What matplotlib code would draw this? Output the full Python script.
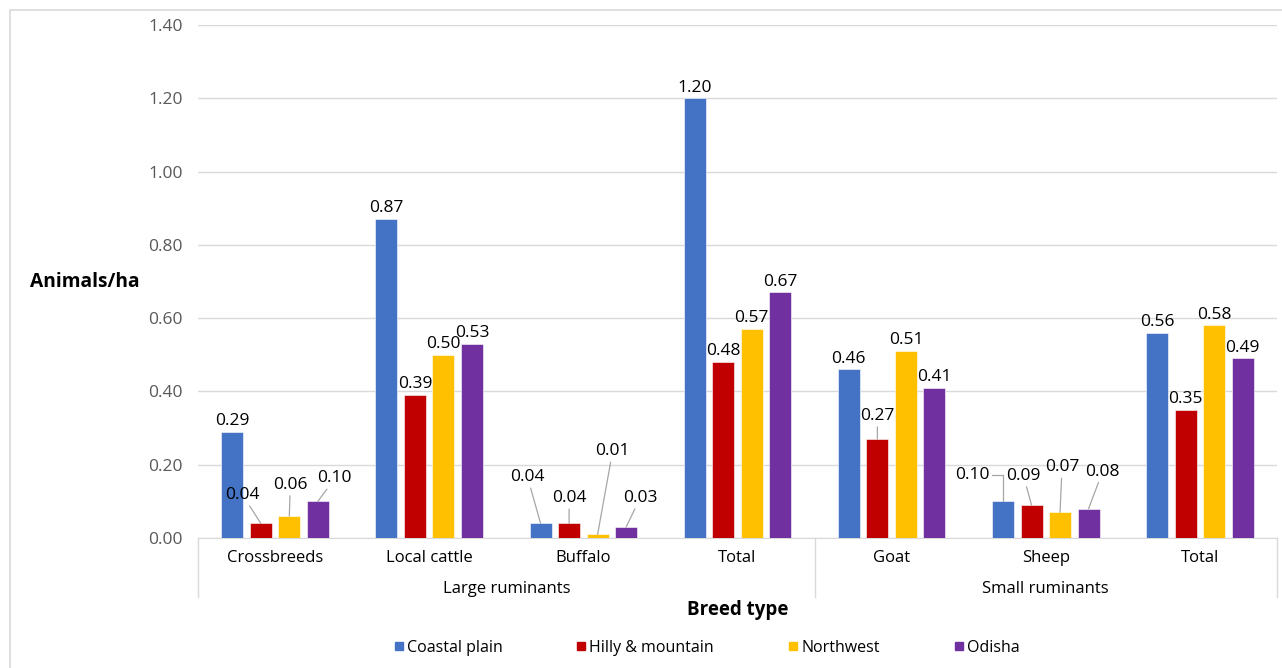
import matplotlib.pyplot as plt
from matplotlib.lines import Line2D
from matplotlib.patches import Rectangle
import numpy as np

plt.rcParams['font.family'] = ['Open Sans', 'DejaVu Sans']

# livestock density per breed type and zone
breeds = ["Crossbreeds", "Local cattle", "Buffalo", "Total", "Goat", "Sheep", "Total"]
groups = ["Large ruminants", "Small ruminants"]
group_span = [(0, 3), (4, 6)]
zones = ["Coastal plain", "Hilly & mountain", "Northwest", "Odisha"]

coastal_plain = [0.29, 0.87, 0.04, 1.20, 0.46, 0.10, 0.56]
hilly_mountain = [0.04, 0.39, 0.04, 0.48, 0.27, 0.09, 0.35]
northwest = [0.06, 0.50, 0.01, 0.57, 0.51, 0.07, 0.58]
odisha = [0.10, 0.53, 0.03, 0.67, 0.41, 0.08, 0.49]

series = [coastal_plain, hilly_mountain, northwest, odisha]
colors = ["#4472C4", "#C00000", "#FFC000", "#7030A0"]

# labels pulled away from short bars, (breed, zone) -> offset in pixels
label_offsets = {
    (0, 1): (-18, 28), (0, 2): (1, 31), (0, 3): (17, 23),
    (2, 0): (-13, 46), (2, 1): (0, 25), (2, 2): (15, 83), (2, 3): (14, 29),
    (4, 1): (0, 23),
    (5, 0): (-31, 26), (5, 1): (-8, 29), (5, 2): (2, 45), (5, 3): (14, 37),
}
elbow = {(5, 0)}

fs = 12
num_fs = 12.5
fig = plt.figure(figsize=(12.82, 6.68), dpi=100)
ax = fig.add_axes([198 / 1282, 1 - 538 / 668, (1277 - 198) / 1282, 513 / 668])

x = np.arange(len(breeds))
pitch = 0.185
width = 0.143
for j, (vals, c) in enumerate(zip(series, colors)):
    xs = x + (j - 1.5) * pitch
    ax.bar(xs, vals, width=width, color=c, edgecolor="white", linewidth=0.4, zorder=3)
    for i, v in enumerate(vals):
        txt = f"{v:.2f}"
        if (i, j) in label_offsets:
            dx, dy = label_offsets[(i, j)]
            conn = "angle,angleA=0,angleB=90,rad=0" if (i, j) in elbow else "arc3"
            ax.annotate(txt, xy=(xs[i], v), xytext=(dx, dy), textcoords="offset pixels",
                        ha="center", va="center", fontsize=num_fs, color="black",
                        arrowprops=dict(arrowstyle="-", color="#A6A6A6", lw=0.9,
                                        shrinkA=0, shrinkB=0, connectionstyle=conn),
                        zorder=4)
        else:
            ax.annotate(txt, xy=(xs[i], v), xytext=(0, 2), textcoords="offset points",
                        ha="center", va="bottom", fontsize=num_fs, color="black", zorder=4)

ax.set_xlim(-0.5, len(breeds) - 0.5)
ax.set_ylim(0, 1.4)
ax.set_yticks(np.arange(0, 1.41, 0.2))
ax.set_yticklabels([f"{t:.2f}" for t in np.arange(0, 1.41, 0.2)])
ax.yaxis.grid(True, color="#D9D9D9", lw=1)
ax.set_axisbelow(True)
for s in ["top", "right", "left"]:
    ax.spines[s].set_visible(False)
ax.spines["bottom"].set_color("#D9D9D9")
ax.tick_params(axis="y", length=0, pad=11, labelsize=num_fs, labelcolor="#595959")
ax.set_xticks(x)
ax.set_xticklabels(breeds)
ax.tick_params(axis="x", length=0, pad=8.5, labelsize=fs, labelcolor="black")

# two-level category axis: group names and separators
sep_y = -0.115
for bound in [-0.5, 3.5, 6.5]:
    ax.plot([bound, bound], [0, sep_y], transform=ax.get_xaxis_transform(),
            color="#D9D9D9", lw=1, clip_on=False)
for name, (a, b) in zip(groups, group_span):
    ax.text((a + b) / 2, -0.0985, name, transform=ax.get_xaxis_transform(),
            ha="center", va="center", fontsize=fs)

ax.text(0.5, -0.14, "Breed type", transform=ax.transAxes, ha="center", va="center",
        fontsize=13.5, fontweight="bold")
fig.text(30 / 1282, 1 - 282 / 668, "Animals/ha", ha="left", va="center",
         fontsize=13.8, fontweight="bold")

handles = [Line2D([], [], marker="s", linestyle="none", markersize=6,
                  markerfacecolor=c, markeredgecolor=c) for c in colors]
fig.legend(handles, zones, loc="center", bbox_to_anchor=(707 / 1282, 1 - 648 / 668),
           ncol=4, frameon=False, fontsize=11.5, handlelength=0.5, handletextpad=0.25,
           columnspacing=4.7)

fig.patches.append(Rectangle((10 / 1282, -0.02), 1.0, 1 - 10 / 668 + 0.02,
                             transform=fig.transFigure, fill=False,
                             edgecolor="#D9D9D9", lw=1.2))

fig.savefig("out.png", dpi=100)
